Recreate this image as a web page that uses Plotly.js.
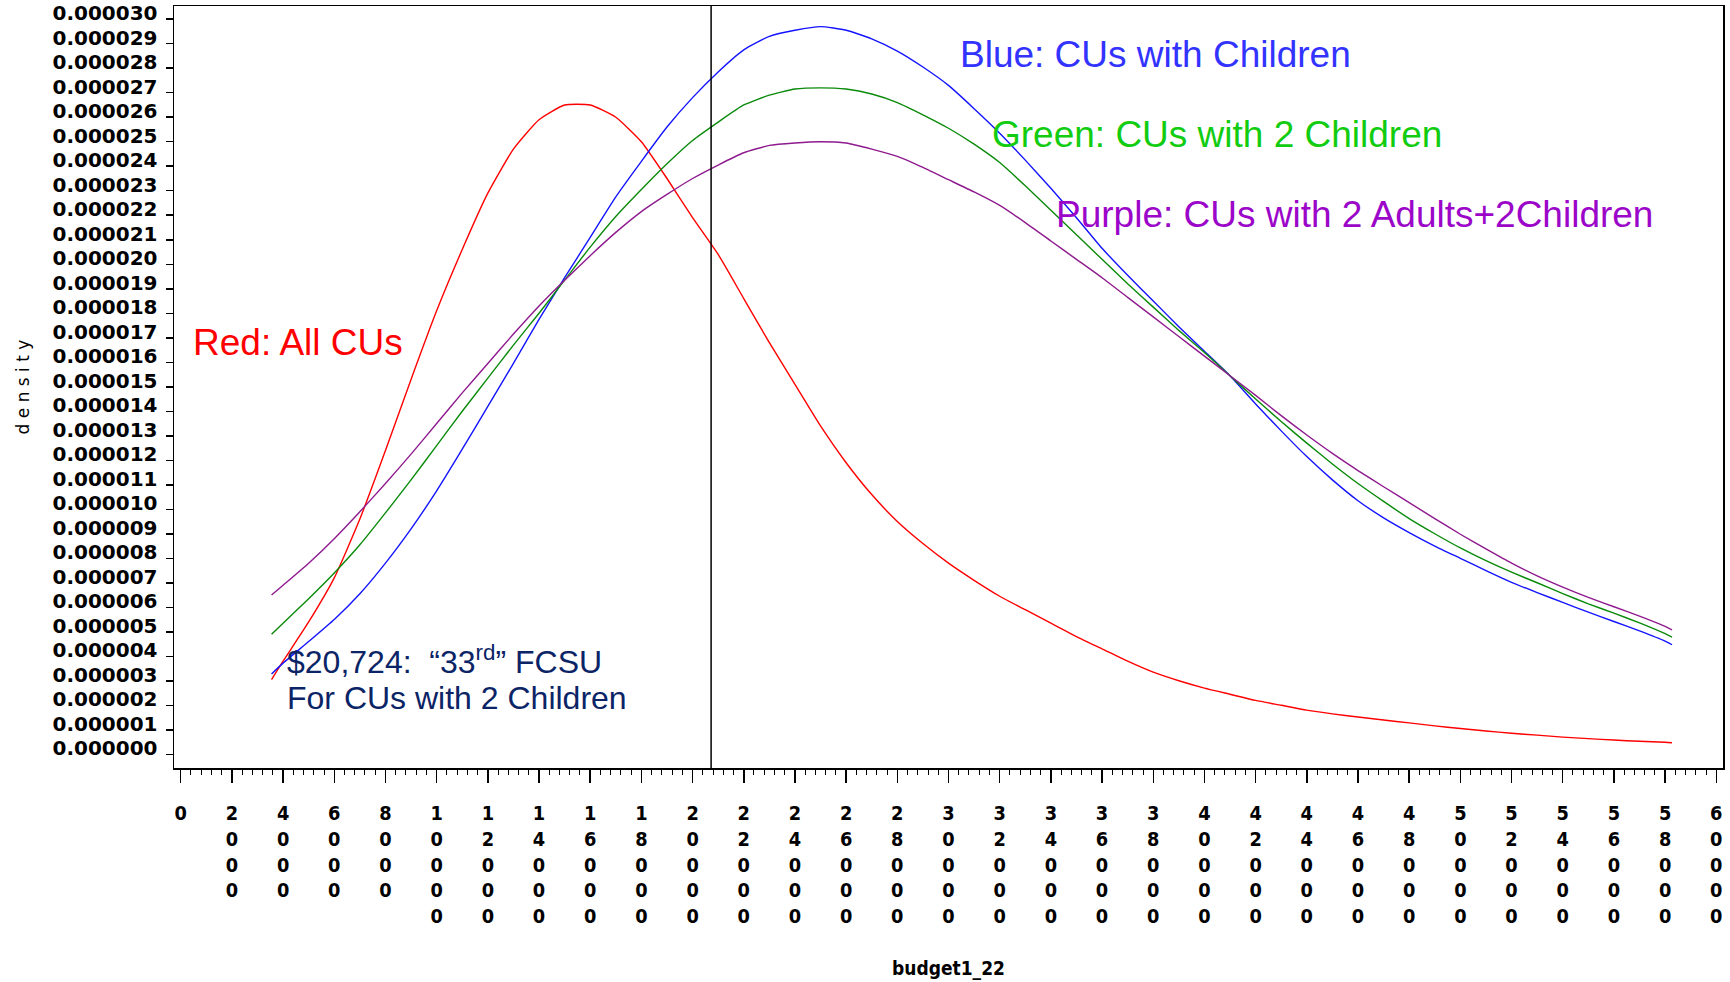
<!DOCTYPE html>
<html>
<head>
<meta charset="utf-8">
<script src="https://cdn.plot.ly/plotly-3.0.1.min.js"></script>
<style>
html,body{margin:0;padding:0;background:#ffffff;}
#chart{width:1730px;height:982px;}
</style>
</head>
<body>
<div id="chart"></div>
<script>
// ---------- DATA (density values in units of 0.000001) ----------
const budget = [3550, 4000, 5000, 6000, 7000, 8000, 9000, 10000, 11000, 12000, 13000, 14000, 15000,
  16000, 17000, 18000, 19000, 20000, 21000, 22000, 23000, 24000, 25000, 26000, 27000, 28000, 29000,
  30000, 31000, 32000, 33000, 34000, 35000, 36000, 37000, 38000, 39000, 40000, 41000, 42000, 43000,
  44000, 45000, 46000, 47000, 48000, 49000, 50000, 51000, 52000, 53000, 54000, 55000, 56000, 57000,
  58000, 58270];

const densityAllCUs = [3.05, 3.8, 5.4, 7.2, 9.6, 12.4, 15.3, 18.1, 20.6, 22.9, 24.7, 25.9, 26.5,
  26.5, 26.0, 25.0, 23.5, 21.9, 20.4, 18.6, 16.8, 15.1, 13.4, 11.9, 10.6, 9.5, 8.6,
  7.8, 7.1, 6.45, 5.9, 5.35, 4.8, 4.3, 3.8, 3.35, 3.0, 2.7, 2.45, 2.2, 2.0,
  1.8, 1.65, 1.52, 1.4, 1.28, 1.16, 1.05, 0.95, 0.86, 0.78, 0.7, 0.64, 0.58, 0.53,
  0.49, 0.47];

const densityWithChildren = [3.28, 3.72, 4.6, 5.5, 6.55, 7.8, 9.2, 10.75, 12.45, 14.2, 15.95, 17.75, 19.45,
  21.1, 22.75, 24.2, 25.6, 26.8, 27.85, 28.75, 29.3, 29.55, 29.7, 29.55, 29.2, 28.7, 28.05,
  27.3, 26.35, 25.35, 24.25, 23.1, 21.9, 20.65, 19.55, 18.5, 17.45, 16.45, 15.45, 14.3, 13.2,
  12.15, 11.2, 10.35, 9.65, 9.05, 8.5, 8.0, 7.5, 7.02, 6.6, 6.2, 5.8, 5.42, 5.04,
  4.62, 4.47];

const densityWith2Children = [4.9, 5.35, 6.35, 7.4, 8.55, 9.85, 11.2, 12.6, 14.0, 15.35, 16.7, 18.0, 19.35,
  20.7, 21.95, 23.05, 24.1, 25.05, 25.8, 26.5, 26.9, 27.15, 27.2, 27.15, 26.95, 26.6, 26.1,
  25.55, 24.9, 24.15, 23.2, 22.2, 21.2, 20.2, 19.2, 18.25, 17.3, 16.4, 15.45, 14.5, 13.58,
  12.7, 11.85, 11.05, 10.32, 9.62, 9.0, 8.42, 7.9, 7.43, 7.0, 6.56, 6.14, 5.76, 5.36,
  4.92, 4.78];

const density2Adults2Children = [6.5, 6.9, 7.8, 8.8, 9.9, 11.05, 12.25, 13.5, 14.75, 15.95, 17.15, 18.3, 19.35,
  20.35, 21.3, 22.15, 22.85, 23.5, 24.05, 24.55, 24.85, 24.95, 25.0, 24.95, 24.7, 24.4, 23.95,
  23.45, 22.95, 22.4, 21.7, 20.95, 20.2, 19.45, 18.65, 17.85, 17.05, 16.25, 15.45, 14.65, 13.82,
  13.03, 12.28, 11.58, 10.92, 10.27, 9.62, 8.98, 8.38, 7.8, 7.28, 6.82, 6.4, 6.02, 5.64,
  5.22, 5.08];

const seriesNames = ["All CUs", "CUs with Children", "CUs with 2 Children", "CUs with 2 Adults+2Children"];

const fcsuThreshold = 20724;

const xTickValues = [0, 2000, 4000, 6000, 8000, 10000, 12000, 14000, 16000, 18000, 20000, 22000,
  24000, 26000, 28000, 30000, 32000, 34000, 36000, 38000, 40000, 42000, 44000, 46000, 48000,
  50000, 52000, 54000, 56000, 58000, 60000];

const yTickValues = [0, 1, 2, 3, 4, 5, 6, 7, 8, 9, 10, 11, 12, 13, 14, 15, 16, 17, 18, 19, 20,
  21, 22, 23, 24, 25, 26, 27, 28, 29, 30];
const yTickLabels = ["0.000000", "0.000001", "0.000002", "0.000003", "0.000004", "0.000005",
  "0.000006", "0.000007", "0.000008", "0.000009", "0.000010", "0.000011", "0.000012", "0.000013",
  "0.000014", "0.000015", "0.000016", "0.000017", "0.000018", "0.000019", "0.000020", "0.000021",
  "0.000022", "0.000023", "0.000024", "0.000025", "0.000026", "0.000027", "0.000028", "0.000029",
  "0.000030"];

const xAxisTitle = "budget1_22";
const yAxisTitle = "d e n s i t y";

// ---------- CHART ----------
const xTickText = xTickValues.map(v => String(v).split("").join("<br>"));

const lineColors = ["#ff0000", "#1414ff", "#0a8a0a", "#8e1a8e"];
const ys = [densityAllCUs, densityWithChildren, densityWith2Children, density2Adults2Children];

const traces = ys.map((y, i) => ({
  type: "scatter",
  mode: "lines",
  x: budget,
  y: y,
  name: seriesNames[i],
  line: {color: lineColors[i], width: 1.4, shape: "spline", smoothing: 0.5},
  hoverinfo: "x+y+name"
}));

const annFont = "Liberation Sans, Arial, Helvetica, sans-serif";
const tickFontX = "Liberation Sans Narrow, DejaVu Sans Condensed, Arial Narrow, DejaVu Sans, sans-serif";

const layout = {
  width: 1730,
  height: 982,
  margin: {l: 174, r: 7, t: 6, b: 214, pad: 0},
  paper_bgcolor: "#ffffff",
  plot_bgcolor: "#ffffff",
  showlegend: false,
  xaxis: {
    range: [-262, 60262],
    tickmode: "array",
    tickvals: xTickValues,
    ticktext: xTickText,
    ticks: "outside",
    ticklen: 13,
    tickwidth: 1.5,
    tickcolor: "#000000",
    ticklabelstandoff: 14,
    minor: {dtick: 400, tick0: 0, ticks: "outside", ticklen: 5, tickwidth: 1, tickcolor: "#000000", showgrid: false},
    showgrid: false,
    zeroline: false,
    showline: true,
    mirror: true,
    linecolor: "#000000",
    linewidth: 1.5,
    tickfont: {family: tickFontX, size: 19.8, color: "#000000", weight: "bold"},
    title: {
      text: xAxisTitle,
      standoff: 34,
      font: {family: tickFontX, size: 19, color: "#000000", weight: "bold"}
    }
  },
  yaxis: {
    range: [-0.56, 30.54],
    tickmode: "array",
    tickvals: yTickValues,
    ticktext: yTickLabels,
    ticks: "outside",
    ticklen: 7,
    tickwidth: 1.5,
    tickcolor: "#000000",
    ticklabelstandoff: 4,
    ticklabelshift: -6,
    showgrid: false,
    zeroline: false,
    showline: true,
    mirror: true,
    linecolor: "#000000",
    linewidth: 1.5,
    tickfont: {family: "DejaVu Sans, Verdana, sans-serif", size: 20, color: "#000000", weight: "bold"},
    title: {
      text: yAxisTitle,
      standoff: 18,
      font: {family: "DejaVu Sans, sans-serif", size: 17, color: "#000000"}
    }
  },
  shapes: [{
    type: "line",
    xref: "x",
    yref: "paper",
    x0: fcsuThreshold,
    x1: fcsuThreshold,
    y0: 0,
    y1: 1,
    line: {color: "#000000", width: 1.5}
  }],
  annotations: [
    {xref: "x", yref: "y", x: 30378, y: 28.58, xanchor: "left", yanchor: "middle", showarrow: false,
     text: "Blue: CUs with Children", font: {family: annFont, size: 37, color: "#3333ff"}},
    {xref: "x", yref: "y", x: 31630, y: 25.31, xanchor: "left", yanchor: "middle", showarrow: false,
     text: "Green: CUs with 2 Children", font: {family: annFont, size: 37, color: "#11cc11"}},
    {xref: "x", yref: "y", x: 34117, y: 22.03, xanchor: "left", yanchor: "middle", showarrow: false,
     text: "Purple: CUs with 2 Adults+2Children", font: {family: annFont, size: 37, color: "#9b06c9"}},
    {xref: "x", yref: "y", x: 391, y: 16.81, xanchor: "left", yanchor: "middle", showarrow: false,
     text: "Red: All CUs", font: {family: annFont, size: 37, color: "#ff0000"}},
    {xref: "x", yref: "y", x: 4064, y: 3.86, xanchor: "left", yanchor: "middle", showarrow: false,
     text: "$20,724:  \u201C33<sup>rd</sup>\u201D FCSU", font: {family: annFont, size: 32, color: "#0b2466"}},
    {xref: "x", yref: "y", x: 4064, y: 2.28, xanchor: "left", yanchor: "middle", showarrow: false,
     text: "For CUs with 2 Children", font: {family: annFont, size: 32, color: "#0b2466"}}
  ]
};

Plotly.newPlot("chart", traces, layout, {staticPlot: true, displayModeBar: false});
</script>
</body>
</html>
